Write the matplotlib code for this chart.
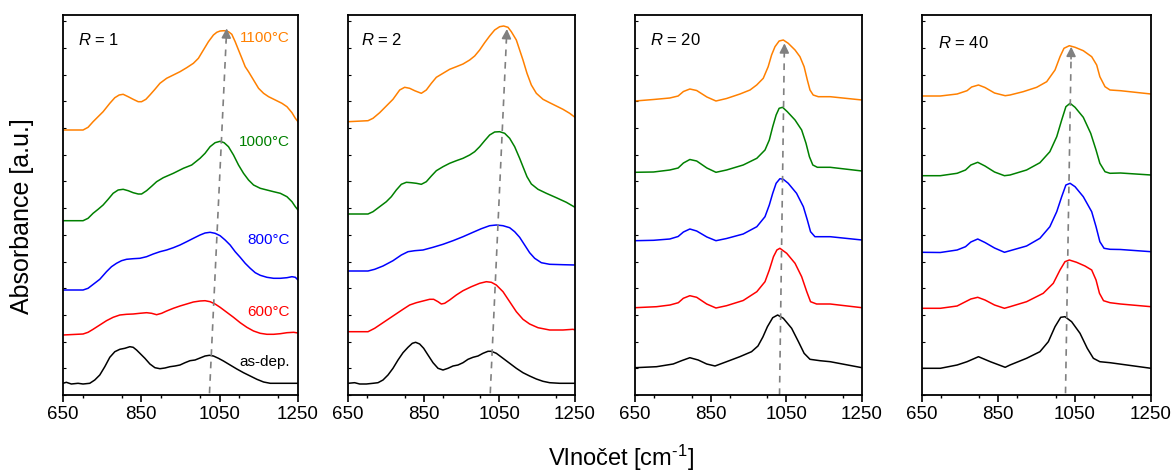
import matplotlib
matplotlib.use("Agg")
import matplotlib.pyplot as plt
from matplotlib.ticker import MultipleLocator

plt.rcParams['font.family'] = ['Liberation Sans', 'DejaVu Sans']
plt.rcParams['mathtext.fontset'] = 'custom'
plt.rcParams['mathtext.it'] = 'Liberation Sans:italic'
plt.rcParams['mathtext.rm'] = 'Liberation Sans'

# ---------------- data (wavenumber, absorbance in a.u. incl. vertical offset) ----------------
ratios = ["1", "2", "20", "40"]
temps = ["as-dep.", "600°C", "800°C", "1000°C", "1100°C"]
colors = ["#000000", "#FF0000", "#0000FF", "#008000", "#FF8000"]

# R = 1
r1_black_x = [650, 658.5, 671.3, 688.4, 701.2, 718.3, 731.1, 743.9, 756.7, 769.5, 782.3, 795.1, 807.9, 820.7, 829.2, 837.8, 846.3, 859.1, 871.9, 884.7, 897.5, 910.3, 923.1, 935.9, 948.7, 961.5, 974.3, 987.1, 999.9, 1012.7, 1023.8, 1034.1, 1046.9, 1059.7, 1076.7, 1093.8, 1110.9, 1128, 1145, 1162.1, 1179.2, 1196.2, 1221.8, 1250]
r1_black_y = [11.7, 12.7, 11, 11.7, 11, 11.7, 15, 20, 28.3, 37.7, 43.3, 45.7, 46.7, 48.3, 47.7, 45, 41.7, 36.7, 31, 27.3, 26.3, 27, 28.3, 29, 30, 32.3, 34.3, 35, 37, 39, 39.7, 39, 36.7, 34, 30, 26, 22.3, 19, 15.7, 13, 11.7, 11.7, 11.7, 11.7]
r1_red_x = [650, 701.2, 714, 726.8, 743.9, 761, 778, 795.1, 812.2, 829.2, 846.3, 863.4, 876.2, 889, 901.8, 914.6, 931.7, 948.7, 965.8, 982.9, 999.9, 1012.7, 1025.5, 1038.3, 1051.1, 1068.2, 1085.3, 1102.4, 1119.4, 1136.5, 1153.6, 1170.6, 1187.7, 1204.8, 1221.8, 1238.9, 1250]
r1_red_y = [60, 61, 62.7, 65.7, 70, 74.3, 77.7, 80, 80.7, 81, 81.7, 82.3, 81.7, 80.3, 81.7, 84, 86.7, 89, 91, 93, 94, 94.3, 93.3, 91, 87.7, 82.7, 77.7, 72.3, 67.7, 64, 61.7, 60.7, 60.7, 61.3, 62.3, 62.7, 62]
r1_blue_x = [650, 701.2, 714, 743.9, 761, 773.8, 786.6, 799.4, 812.2, 829.2, 846.3, 863.4, 880.4, 897.5, 914.6, 931.7, 948.7, 965.8, 982.9, 999.9, 1012.7, 1025.5, 1038.3, 1051.1, 1063.9, 1076.7, 1089.6, 1102.4, 1115.2, 1128, 1140.8, 1153.6, 1170.6, 1187.7, 1204.8, 1221.8, 1234.6, 1243.2, 1250]
r1_blue_y = [105, 105, 106.7, 115.7, 123.3, 128.3, 131.7, 134.3, 135.7, 136.3, 136.7, 138.3, 141, 143.3, 145, 147.3, 150, 153.3, 156.7, 160, 162, 162.7, 161.7, 159.3, 155, 150, 143.3, 137.7, 131.7, 126.7, 122.3, 119.7, 117.7, 116.7, 116.7, 117.3, 118.3, 117.7, 115]
r1_green_x = [650, 701.2, 714, 726.8, 739.6, 752.4, 765.2, 778, 790.8, 803.6, 816.4, 829.2, 842, 850.6, 863.4, 876.2, 889, 906, 931.7, 957.3, 978.6, 999.9, 1012.7, 1025.5, 1038.3, 1051.1, 1061.4, 1072.5, 1085.3, 1098.1, 1110.9, 1123.7, 1136.5, 1153.6, 1170.6, 1187.7, 1204.8, 1221.8, 1234.6, 1243.2, 1250]
r1_green_y = [174.3, 174.3, 176.7, 181.7, 185.7, 190, 195.7, 201.7, 205, 205.7, 204.3, 202.3, 201, 201, 204.3, 208.7, 213.3, 217.3, 221.7, 226.7, 230, 236.7, 241.7, 248.3, 252.3, 253.7, 252.3, 248.3, 240, 230, 221.7, 215, 210, 206.7, 205, 203.3, 201.7, 198.3, 193.3, 188.3, 185]
r1_orange_x = [650, 701.2, 714, 726.8, 739.6, 752.4, 769.5, 782.3, 793.4, 803.6, 816.4, 829.2, 842, 850.6, 861.7, 871.9, 884.7, 897.5, 914.6, 931.7, 948.7, 965.8, 982.9, 995.7, 1008.5, 1021.3, 1034.1, 1042.6, 1051.1, 1061.4, 1072.5, 1081, 1089.6, 1098.1, 1106.7, 1115.2, 1123.7, 1136.5, 1149.3, 1162.1, 1174.9, 1192, 1209, 1221.8, 1234.6, 1243.2, 1250]
r1_orange_y = [265, 265, 267.7, 273.3, 278.3, 283.3, 291.7, 297.3, 300, 300.7, 298.3, 295.7, 293.3, 293.3, 295.7, 300, 305.7, 311.7, 316.7, 320, 323.3, 327.3, 331.7, 336.7, 345, 353.3, 360, 362.7, 364, 364.3, 363.3, 360.7, 353.3, 345, 336.7, 328.3, 323.3, 315, 306.7, 301.7, 298.3, 295, 291.7, 288.3, 282.3, 276.7, 273.3]

# R = 2
r2_black_x = [650, 667.6, 680.8, 698.5, 716.1, 729.3, 742.5, 755.7, 768.9, 782.2, 795.4, 808.6, 820, 828.8, 839.4, 850, 861.4, 874.7, 887.9, 901.1, 914.3, 927.5, 940.7, 954, 967.2, 980.4, 993.6, 1006.8, 1020, 1028.8, 1042, 1059.7, 1077.3, 1094.9, 1112.5, 1130.1, 1147.8, 1165.4, 1183, 1209.4, 1250]
r2_black_y = [11.7, 12.3, 11, 11, 11.7, 12.3, 15, 20, 26.7, 35, 42.3, 47.7, 51.7, 52.7, 51, 46.7, 40, 32.3, 26.7, 25, 26.7, 29, 30, 32.3, 35.7, 37.7, 39, 41.7, 43.7, 43.7, 41.7, 36.7, 31.7, 26.7, 22.3, 19, 16, 13.7, 12.3, 11.7, 11.7]
r2_red_x = [650, 702.9, 720.5, 742.5, 768.9, 795.4, 813, 830.6, 848.2, 865.8, 876.4, 887.9, 896.7, 905.5, 918.7, 936.3, 954, 976, 998, 1015.6, 1028.8, 1042, 1059.7, 1077.3, 1094.9, 1112.5, 1130.1, 1152.2, 1183, 1218.2, 1244.7, 1250]
r2_red_y = [63.3, 63.3, 66.7, 72.3, 79, 85.7, 90, 92.3, 94, 95.7, 95.7, 93.3, 91, 91.7, 95, 100, 104.3, 108.3, 111.7, 113.3, 112.7, 110, 103.3, 93.3, 83.3, 75.7, 71, 67.3, 65, 65, 65.7, 65]
r2_blue_x = [650, 702.9, 720.5, 742.5, 768.9, 791, 808.6, 826.2, 848.2, 874.7, 901.1, 927.5, 954, 980.4, 1002.4, 1024.4, 1042, 1059.7, 1077.3, 1090.5, 1103.7, 1116.9, 1130.1, 1143.4, 1161, 1183, 1218.2, 1250]
r2_blue_y = [124, 124, 125.7, 129, 134.3, 140, 143.3, 144.3, 145, 147.7, 150.7, 154.3, 158.3, 162.7, 166.3, 169.3, 170, 169.3, 167.3, 163.3, 157.7, 150, 142.3, 136.7, 132.3, 130.7, 130.3, 130]
r2_green_x = [650, 702.9, 716.1, 733.7, 751.3, 764.5, 777.7, 791, 804.2, 817.4, 830.6, 843.8, 857, 870.3, 883.5, 901.1, 918.7, 936.3, 954, 971.6, 984.8, 998, 1011.2, 1024.4, 1037.6, 1050.9, 1064.1, 1077.3, 1090.5, 1103.7, 1112.5, 1123.1, 1134.6, 1152.2, 1174.2, 1200.6, 1227.1, 1250]
r2_green_y = [181, 181, 183.3, 188.3, 193.3, 198.3, 205, 210.7, 212.7, 212.3, 211.7, 210.7, 213.3, 219, 224.3, 228.3, 231.7, 234.3, 236.7, 240, 243.3, 248.3, 254.3, 260, 263, 263.3, 261.7, 256.7, 248.3, 236.7, 228.3, 218.3, 211, 205.7, 201.7, 197.3, 192.7, 187.7]
r2_orange_x = [650, 702.9, 716.1, 733.7, 751.3, 768.9, 786.6, 799.8, 813, 826.2, 843.8, 857, 870.3, 883.5, 901.1, 918.7, 936.3, 954, 971.6, 984.8, 998, 1011.2, 1024.4, 1037.6, 1050.9, 1061.4, 1072.9, 1081.7, 1094.9, 1103.7, 1112.5, 1123.1, 1134.6, 1147.8, 1165.4, 1183, 1200.6, 1218.2, 1235.9, 1250]
r2_orange_y = [273.3, 274.3, 276.7, 282.3, 289, 295.7, 305, 307.7, 306.7, 304.3, 301.7, 305, 311.7, 317.7, 321.7, 325.7, 328.3, 331, 335, 339, 345, 352.3, 359, 365, 368.3, 369, 367.7, 363.3, 355, 345, 335, 321.7, 310, 301.7, 295.7, 292.3, 289, 285.7, 281.7, 277.7]

# R = 20
r20_black_x = [650, 707, 751, 773, 795, 817, 839.5, 861.5, 892, 927, 958, 975, 988, 1000, 1014, 1027, 1042, 1064, 1082, 1097, 1112.5, 1139, 1166, 1250]
r20_black_y = [27.3, 28.3, 31, 34.3, 37.3, 35, 31, 29, 33.3, 38.3, 43.3, 49, 58, 68.3, 77.3, 80, 76.7, 66.7, 53.3, 41.7, 35.7, 34.3, 33.3, 27.3]
r20_red_x = [650, 707, 742.5, 764.5, 777.7, 795, 813, 839.5, 864, 892, 936, 972, 993.6, 1005, 1016, 1025, 1033, 1051, 1073, 1090.5, 1104, 1114, 1130, 1166, 1250]
r20_red_y = [87.3, 88.3, 90, 92.3, 96.7, 99.3, 97.7, 91, 87, 89.3, 94.5, 103.3, 113.3, 125, 138.3, 145, 146.7, 141.7, 131.7, 118.3, 103.3, 93.3, 91, 91, 87.3]
r20_blue_x = [650, 699, 742, 764, 778, 795, 813, 840, 864, 892, 936, 972, 993.6, 1005, 1014, 1023, 1033, 1042, 1055, 1077, 1095, 1105.5, 1114, 1125.6, 1166, 1250]
r20_blue_y = [154.3, 154.7, 156, 158.5, 163, 166, 164, 158, 154.3, 156.5, 161, 168.3, 178.3, 190, 201.7, 211.7, 216.3, 215.7, 211.7, 201.7, 188.3, 175, 163.3, 158.3, 158.3, 155]
r20_green_x = [650, 699, 742, 764, 778, 795, 813, 840, 864, 892, 936, 972, 993.6, 1005, 1014, 1023, 1031, 1040, 1052.6, 1073, 1090.5, 1102, 1111, 1120, 1132, 1166, 1250]
r20_green_y = [222.7, 223, 225, 227, 232, 235.5, 234, 227, 222.7, 225, 230, 236.7, 245, 255, 268.3, 280, 286.7, 287.7, 283.3, 275, 265, 251.7, 238.3, 230, 227.7, 227.7, 224]
r20_orange_x = [650, 699, 742, 764, 778, 795, 813, 840, 864, 892, 927.5, 954, 971.6, 989, 1002, 1011, 1020, 1031, 1042, 1055, 1073, 1086, 1097, 1105.5, 1112.5, 1121, 1134.5, 1166, 1250]
r20_orange_y = [294, 295.5, 297, 299, 303.5, 306, 304.5, 298, 294, 296.5, 301, 305, 310, 316.7, 328.3, 340, 348.3, 354, 355, 351.7, 345, 338.3, 328.3, 315, 305, 300, 298.3, 298.3, 295]

# R = 40
r40_black_x = [650, 698, 742, 768, 798, 829, 868, 880.6, 924, 959, 981, 998.5, 1013.5, 1024.6, 1042, 1064, 1083, 1099, 1116, 1142.6, 1250]
r40_black_y = [26.7, 26.7, 30, 33.3, 38.3, 33.3, 27.7, 30, 36.7, 43.3, 53.3, 68.3, 77.7, 78.3, 73.3, 61.7, 46.7, 36.7, 33.3, 32.3, 26.7]
r40_red_x = [650, 698, 742, 764, 778, 796, 815, 840, 866, 880.6, 924, 967.7, 994, 1011.6, 1024.6, 1036, 1055, 1077, 1094.6, 1106, 1115, 1125.6, 1142.6, 1170, 1250]
r40_red_y = [86.7, 86.7, 89, 93.3, 96, 97.7, 95, 90, 86.7, 88.3, 93.3, 101.7, 111.7, 125, 133.3, 135, 132.7, 129, 125, 115, 101.7, 94.3, 92.3, 91, 88.3]
r40_blue_x = [650, 698, 742, 764, 778, 796, 815, 840, 866, 880.6, 924, 959, 985, 1003, 1016, 1027, 1038, 1051, 1072.6, 1094.6, 1106, 1116, 1127, 1142.6, 1170, 1250]
r40_blue_y = [142.7, 142.5, 145, 148.3, 153, 156, 152.5, 147, 142.7, 144.3, 149, 156.7, 168.3, 183.3, 198.3, 210, 211.7, 208.3, 198.3, 183.3, 168.3, 153.3, 146.7, 145.7, 145.5, 143.3]
r40_green_x = [650, 698, 742, 764, 778, 796, 815, 840, 866, 880.6, 924, 959, 985, 1003, 1016, 1027, 1038, 1051, 1072.6, 1092, 1106, 1116, 1129.5, 1142.6, 1170, 1250]
r40_green_y = [219.3, 219.3, 221.7, 225, 230, 232.7, 229, 223, 219.3, 220, 225, 232.3, 243.3, 258.3, 275, 288.3, 291.7, 287.7, 277.7, 261.7, 245, 231.7, 223.3, 221.7, 222, 220]
r40_orange_x = [650, 698, 742, 768, 780, 798, 815, 840, 868, 880.6, 915, 950.5, 976.7, 998.5, 1011.6, 1022, 1036, 1051, 1072.6, 1094.6, 1107.7, 1116, 1129.5, 1142.6, 1170, 1250]
r40_orange_y = [299, 299, 301, 304.3, 308, 310, 307.5, 302, 299.3, 300, 303.3, 307.7, 313.3, 325, 338.3, 346.7, 349.3, 347.7, 344.3, 338.3, 330, 318.3, 308.3, 305, 304.3, 301]

# peak-shift arrows: (x_start, y_start, x_end, y_end)
arrow_r1 = [1024, 1.7, 1068, 366.7]
arrow_r2 = [1026, 1.7, 1070, 366.0]
arrow_r20 = [1032, 0.0, 1045, 351.7]
arrow_r40 = [1026, 1.7, 1041, 348.3]

# temperature label heights (panel R = 1)
label_y = [33.3, 83.3, 155, 253.3, 356.7]

panels = [
    ([(r1_black_x, r1_black_y), (r1_red_x, r1_red_y), (r1_blue_x, r1_blue_y), (r1_green_x, r1_green_y), (r1_orange_x, r1_orange_y)], arrow_r1),
    ([(r2_black_x, r2_black_y), (r2_red_x, r2_red_y), (r2_blue_x, r2_blue_y), (r2_green_x, r2_green_y), (r2_orange_x, r2_orange_y)], arrow_r2),
    ([(r20_black_x, r20_black_y), (r20_red_x, r20_red_y), (r20_blue_x, r20_blue_y), (r20_green_x, r20_green_y), (r20_orange_x, r20_orange_y)], arrow_r20),
    ([(r40_black_x, r40_black_y), (r40_red_x, r40_red_y), (r40_blue_x, r40_blue_y), (r40_green_x, r40_green_y), (r40_orange_x, r40_orange_y)], arrow_r40),
]

# ---------------- layout ----------------
W, H = 1176, 475
fig = plt.figure(figsize=(W / 100, H / 100), dpi=100)
px_boxes = [(63, 298), (348, 575), (635, 862), (922, 1151)]
top_px, bot_px = 15, 395
r_label_pos = [(0.064, 0.934), (0.056, 0.934), (0.066, 0.934), (0.068, 0.925)]

for i, ((curves, arr), (l, r)) in enumerate(zip(panels, px_boxes)):
    ax = fig.add_axes([l / W, 1 - bot_px / H, (r - l) / W, (bot_px - top_px) / H])
    for (xs, ys), c in zip(curves, colors):
        ax.plot(xs, ys, color=c, lw=1.1, solid_joinstyle='round')
    ax.set_xlim(650, 1250)
    ax.set_ylim(0, 380)
    ax.set_xticks([650, 850, 1050, 1250])
    ax.xaxis.set_minor_locator(MultipleLocator(100))
    ax.tick_params(axis='x', which='major', direction='out', length=5, width=1.2,
                   labelsize=13.5, pad=3)
    ax.tick_params(axis='x', which='minor', direction='out', length=2.5, width=1.0)
    ax.yaxis.set_major_locator(MultipleLocator(26.7))
    ax.tick_params(axis='y', which='major', direction='in', length=2, width=0.8,
                   labelleft=False)
    for s in ax.spines.values():
        s.set_linewidth(1.3)

    # dashed arrow
    x0, y0, x1, y1 = arr
    f = 0.035
    xm, ym = x1 - f * (x1 - x0), y1 - f * (y1 - y0)
    ax.plot([x0, xm], [y0, ym], color='#808080', lw=1.2, ls=(0, (4, 3.5)))
    ax.annotate('', xy=(x1, y1), xytext=(xm, ym),
                arrowprops=dict(arrowstyle='-|>', color='#808080', lw=1.2,
                                mutation_scale=14, shrinkA=0, shrinkB=0))

    rx, ry = r_label_pos[i]
    ax.text(rx, ry, r'$\it{R}$ = ' + ratios[i], transform=ax.transAxes,
            fontsize=12, ha='left', va='center')

    if i == 0:
        for t, c, y in zip(temps, colors, label_y):
            ax.text(1230, y, t, color=c, fontsize=11, ha='right', va='center')

fig.text(22 / W, 1 - 216 / H, 'Absorbance [a.u.]', rotation=90, fontsize=18,
         ha='center', va='center')
fig.text(621 / W, 1 - 458 / H, r'Vlnočet [cm$^{\text{-1}}$]', fontsize=17,
         ha='center', va='center')

fig.savefig('out.png', dpi=100)
